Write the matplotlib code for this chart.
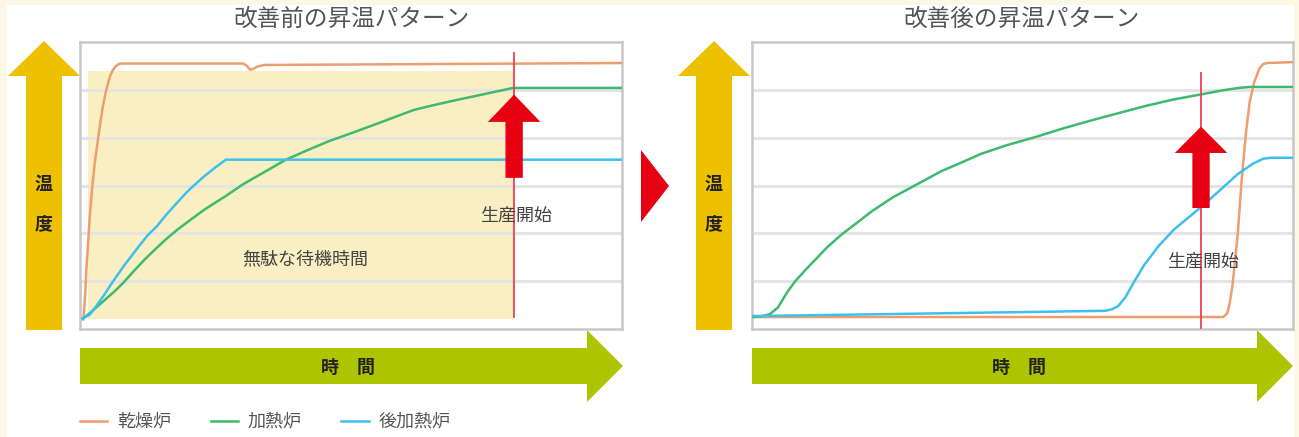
import matplotlib.pyplot as plt
from matplotlib.patches import Polygon, Rectangle

plt.rcParams['font.family'] = ['Noto Sans CJK JP', 'DejaVu Sans']

# ---------------- data (time 0-100, temperature 0-6) ----------------
titles = ['改善前の昇温パターン', '改善後の昇温パターン']
series_names = ['乾燥炉', '加熱炉', '後加熱炉']
series_colors = ['#EE9E6E', '#3DBA6E', '#3EC0EE']

# before improvement
before_dry_t = [0.6, 0.8, 1.0, 1.2, 1.5, 1.8, 2.2, 2.7, 3.3, 3.8, 4.2, 4.8, 5.5, 6.0, 6.5, 7.0, 7.4, 8.0,
                30.1, 30.8, 31.4, 32.0, 32.8, 34.0, 100]
before_dry_y = [0.2, 0.45, 0.8, 1.3, 1.8, 2.35, 2.9, 3.45, 3.95, 4.35, 4.64, 4.98, 5.27, 5.4, 5.48, 5.53, 5.55, 5.55,
                5.55, 5.5, 5.42, 5.44, 5.49, 5.52, 5.56]
before_heat_t = [0.5, 1.8, 3.5, 5.0, 6.5, 8.1, 10, 12, 14, 15.9, 18, 20, 23, 26.9, 30, 34, 38, 42, 46,
                 50.2, 55, 61.6, 66, 70, 75, 79.9, 100]
before_heat_y = [0.22, 0.33, 0.5, 0.65, 0.8, 0.98, 1.22, 1.46, 1.68, 1.88, 2.08, 2.25, 2.5, 2.78, 3.02, 3.28, 3.54,
                 3.74, 3.93, 4.1, 4.3, 4.58, 4.7, 4.8, 4.92, 5.04, 5.04]
before_post_t = [0.5, 1.8, 3.0, 4.5, 6.0, 8.1, 10, 11, 12.5, 14.2, 16, 18, 19.6, 21, 23, 25, 26.9, 100]
before_post_y = [0.22, 0.3, 0.48, 0.72, 0.98, 1.32, 1.6, 1.75, 1.96, 2.15, 2.4, 2.65, 2.85, 3.0, 3.2, 3.38, 3.54, 3.54]

# after improvement
after_dry_t = [0, 87.1, 87.8, 88.2, 88.8, 89.8, 90.5, 91.3, 92.0, 92.8, 93.8, 94.5, 95.2, 100]
after_dry_y = [0.25, 0.25, 0.32, 0.48, 0.9, 2.0, 3.1, 4.1, 4.75, 5.15, 5.45, 5.54, 5.56, 5.58]
after_heat_t = [0, 1.5, 3.3, 4.8, 5.6, 6.5, 8, 10, 11.8, 14, 16.5, 19.4, 22, 26, 30.9, 35, 38.5, 42.3,
                47, 52, 57.7, 63, 68, 73.0, 78, 82.8, 87, 90, 92.0, 95, 100]
after_heat_y = [0.25, 0.26, 0.31, 0.45, 0.6, 0.77, 1.0, 1.25, 1.46, 1.72, 1.97, 2.22, 2.45, 2.75, 3.05, 3.3, 3.47,
                3.66, 3.84, 4.0, 4.2, 4.37, 4.52, 4.67, 4.8, 4.9, 4.99, 5.04, 5.06, 5.06, 5.06]
after_post_t = [0, 30, 65.2, 66.5, 67.7, 69, 70.6, 72.5, 75.2, 78, 82.8, 86, 89.8, 92.5, 94.5, 95.9, 100]
after_post_y = [0.27, 0.32, 0.38, 0.41, 0.48, 0.66, 0.98, 1.34, 1.74, 2.08, 2.53, 2.85, 3.24, 3.45, 3.56, 3.58, 3.58]

start_t = [80.1, 83.0]           # production start
start_line_y = [(0.25, 5.77), (0.02, 5.36)]
start_arrow_y = [(3.16, 4.33, 4.9), (2.53, 3.68, 4.23)]   # shaft bottom, head base, tip
start_label_y = [2.38, 1.4]
waiting_span = (1.5, 79.9, 0.21, 5.4)   # t0, t1, y0, y1
waiting_label = '無駄な待機時間'

W, H = 1299, 437
fig = plt.figure(figsize=(W / 100, H / 100), dpi=100)
fig.patch.set_facecolor('#FDF8E6')

# background layer in pixel coordinates
bg = fig.add_axes([0, 0, 1, 1])
bg.set_xlim(0, W)
bg.set_ylim(H, 0)
bg.axis('off')
bg.add_patch(Rectangle((7, 5), 1286, 432, color='white', zorder=0))

yellow = '#EDC100'
lime = '#ADC500'
red = '#E60012'

for x0 in [8, 678]:
    # temperature arrow
    bg.add_patch(Polygon([(x0 + 18, 330), (x0 + 18, 76), (x0, 76), (x0 + 36, 41),
                          (x0 + 72, 76), (x0 + 54, 76), (x0 + 54, 330)], color=yellow, lw=0))
    bg.text(x0 + 36, 184, '温', ha='center', va='center', fontsize=13, fontweight='bold', color='#222')
    bg.text(x0 + 36, 224, '度', ha='center', va='center', fontsize=13, fontweight='bold', color='#222')

for x0, x1 in [(80, 623), (752, 1293)]:
    # time arrow
    bg.add_patch(Polygon([(x0, 348), (x1 - 36, 348), (x1 - 36, 330), (x1, 366),
                          (x1 - 36, 402), (x1 - 36, 384), (x0, 384)], color=lime, lw=0))
    bg.text((x0 + x1 - 36) / 2 + 15, 367, '時　間', ha='center', va='center',
            fontsize=13, fontweight='bold', color='#222')

bg.add_patch(Polygon([(641, 150), (669, 186), (641, 222)], color=red, lw=0))

bg.text(351, 19, titles[0], ha='center', va='center', fontsize=17, color='#555')
bg.text(1021, 19, titles[1], ha='center', va='center', fontsize=17, color='#555')

data = [
    [(before_dry_t, before_dry_y), (before_heat_t, before_heat_y), (before_post_t, before_post_y)],
    [(after_dry_t, after_dry_y), (after_heat_t, after_heat_y), (after_post_t, after_post_y)],
]
boxes = [(80, 622), (752, 1293)]
top, bottom = 42, 329

axes = []
for i, (xl, xr) in enumerate(boxes):
    ax = fig.add_axes([xl / W, (H - bottom) / H, (xr - xl) / W, (bottom - top) / H])
    ax.set_facecolor('white')
    ax.set_xlim(0, 100)
    ax.set_ylim(0, 6)
    ax.set_xticks([])
    ax.set_yticks([])
    for y in range(1, 6):
        ax.axhline(y, color='#E4E4E4', lw=2.2, zorder=1)
    for s in ax.spines.values():
        s.set_color('#C8C8C8')
        s.set_linewidth(1.8)

    if i == 0:
        t0, t1, y0, y1 = waiting_span
        ax.add_patch(Rectangle((t0, y0), t1 - t0, y1 - y0, color='#FAEFC2', lw=0, zorder=0.5))
        ax.text(41.5, 1.46, waiting_label, ha='center', va='center', fontsize=13, color='#444')

    lines = []
    for (t, y), c, n in zip(data[i], series_colors, series_names):
        ln, = ax.plot(t, y, color=c, lw=1.8, label=n, zorder=3, solid_joinstyle='round')
        lines.append(ln)

    ts = start_t[i]
    ax.plot([ts, ts], start_line_y[i], color='#EE4050', lw=1.3, zorder=4)
    yb, yh, ytip = start_arrow_y[i]
    sw, hw = 1.6, 4.85
    ax.add_patch(Polygon([(ts - sw, yb), (ts - sw, yh), (ts - hw, yh), (ts, ytip),
                          (ts + hw, yh), (ts + sw, yh), (ts + sw, yb)], color=red, lw=0, zorder=5))
    ax.text(ts + 0.3, start_label_y[i], '生産開始', ha='center', va='center', fontsize=13, color='#444', zorder=6)
    axes.append((ax, lines))

leg = fig.legend(handles=axes[0][1], loc='center left', bbox_to_anchor=(80 / W, (H - 422) / H),
                 ncol=3, frameon=False, fontsize=13, handlelength=1.5, handletextpad=0.55,
                 columnspacing=2.2, borderpad=0, borderaxespad=0)
for txt in leg.get_texts():
    txt.set_color('#555')

fig.savefig('out.png', dpi=100, facecolor=fig.get_facecolor())
